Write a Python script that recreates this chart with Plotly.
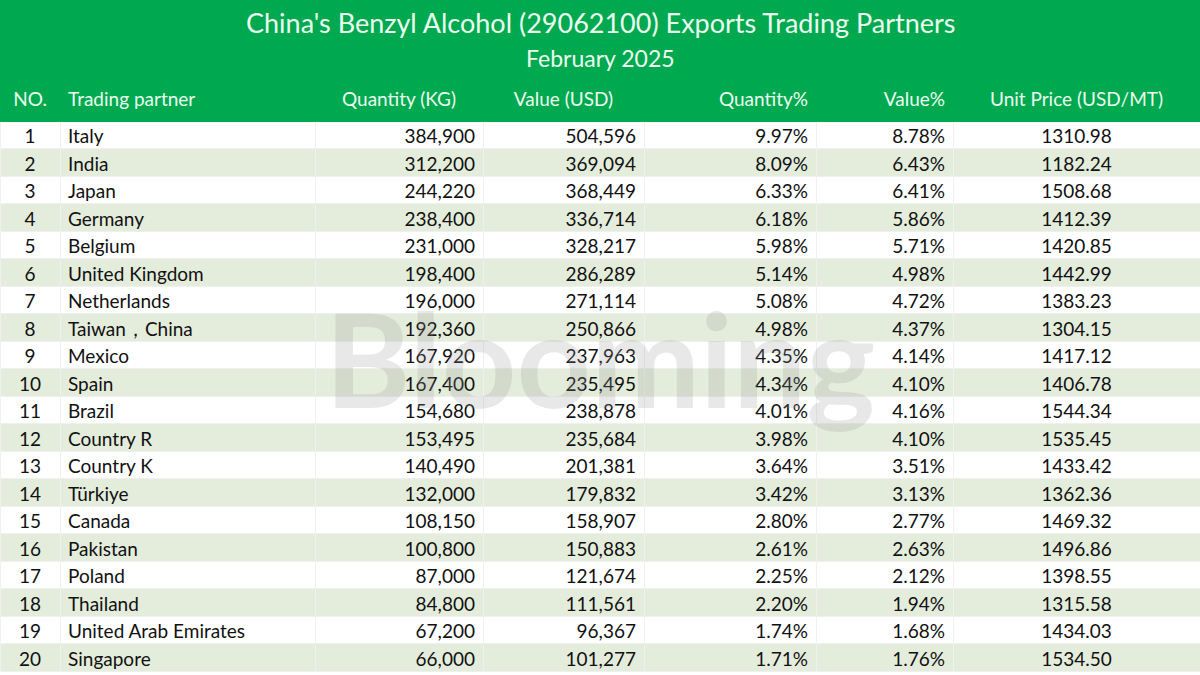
import plotly.graph_objects as go

nos = list(range(1, 21))
partners = ["Italy", "India", "Japan", "Germany", "Belgium", "United Kingdom", "Netherlands",
            "Taiwan，China", "Mexico", "Spain", "Brazil", "Country R", "Country K", "Türkiye",
            "Canada", "Pakistan", "Poland", "Thailand", "United Arab Emirates", "Singapore"]
quantity = [384900, 312200, 244220, 238400, 231000, 198400, 196000, 192360, 167920, 167400,
            154680, 153495, 140490, 132000, 108150, 100800, 87000, 84800, 67200, 66000]
value = [504596, 369094, 368449, 336714, 328217, 286289, 271114, 250866, 237963, 235495,
         238878, 235684, 201381, 179832, 158907, 150883, 121674, 111561, 96367, 101277]
qty_pct = [9.97, 8.09, 6.33, 6.18, 5.98, 5.14, 5.08, 4.98, 4.35, 4.34,
           4.01, 3.98, 3.64, 3.42, 2.80, 2.61, 2.25, 2.20, 1.74, 1.71]
val_pct = [8.78, 6.43, 6.41, 5.86, 5.71, 4.98, 4.72, 4.37, 4.14, 4.10,
           4.16, 4.10, 3.51, 3.13, 2.77, 2.63, 2.12, 1.94, 1.68, 1.76]
unit_price = [1310.98, 1182.24, 1508.68, 1412.39, 1420.85, 1442.99, 1383.23, 1304.15, 1417.12, 1406.78,
              1544.34, 1535.45, 1433.42, 1362.36, 1469.32, 1496.86, 1398.55, 1315.58, 1434.03, 1534.50]
headers = ["NO.", "Trading partner", "Quantity (KG)", "Value (USD)", "Quantity%", "Value%", "Unit Price (USD/MT)"]

GREEN = "#00a84f"
FONT = "Lato"
fills = ["#ffffff" if i % 2 == 0 else "#e4eddc" for i in range(20)]

fig = go.Figure(go.Table(
    domain=dict(x=[0, 1], y=[0, 1 - 84 / 675]),
    columnwidth=[60, 255, 168, 161, 172, 137, 247],
    header=dict(values=headers, fill_color=GREEN, line_color=GREEN, height=37,
                align=["center", "left", "center", "center", "right", "right", "center"],
                font=dict(family=FONT, size=19, color="#eafff0")),
    cells=dict(values=[nos, partners,
                       [f"{q:,}" for q in quantity],
                       [f"{v:,}" for v in value],
                       [f"{p:.2f}%" for p in qty_pct],
                       [f"{p:.2f}%" for p in val_pct],
                       [f"{u:.2f}" for u in unit_price]],
               fill_color=[fills] * 7, line_color="#f0f0f0", height=27.5,
               align=["center", "left", "right", "right", "right", "right", "center"],
               font=dict(family=FONT, size=19, color="#111111")),
))

fig.add_shape(type="rect", xref="paper", yref="paper", x0=0, x1=1, y0=1 - 85 / 675, y1=1,
              fillcolor=GREEN, line_width=0, layer="below")
fig.add_annotation(text="China's Benzyl Alcohol (29062100) Exports Trading Partners", x=0.5, y=1 - 22 / 675,
                   yanchor="middle", xref="paper", yref="paper", showarrow=False,
                   font=dict(family=FONT, size=27, color="#eafff0"))
fig.add_annotation(text="February 2025", x=0.5, y=1 - 58 / 675, yanchor="middle", xref="paper", yref="paper",
                   showarrow=False, font=dict(family=FONT, size=23, color="#eafff0"))
fig.add_annotation(text="<b>Blooming</b>", x=0.5, y=0.47, xref="paper", yref="paper", showarrow=False,
                   font=dict(family=FONT, size=130, color="rgba(150,150,150,0.22)"))

fig.update_layout(width=1200, height=675, margin=dict(l=0, r=0, t=0, b=0),
                  paper_bgcolor="white", plot_bgcolor="white")
fig.write_html("out.html", config={"displayModeBar": False},
               post_script="document.body.style.margin='0';")
